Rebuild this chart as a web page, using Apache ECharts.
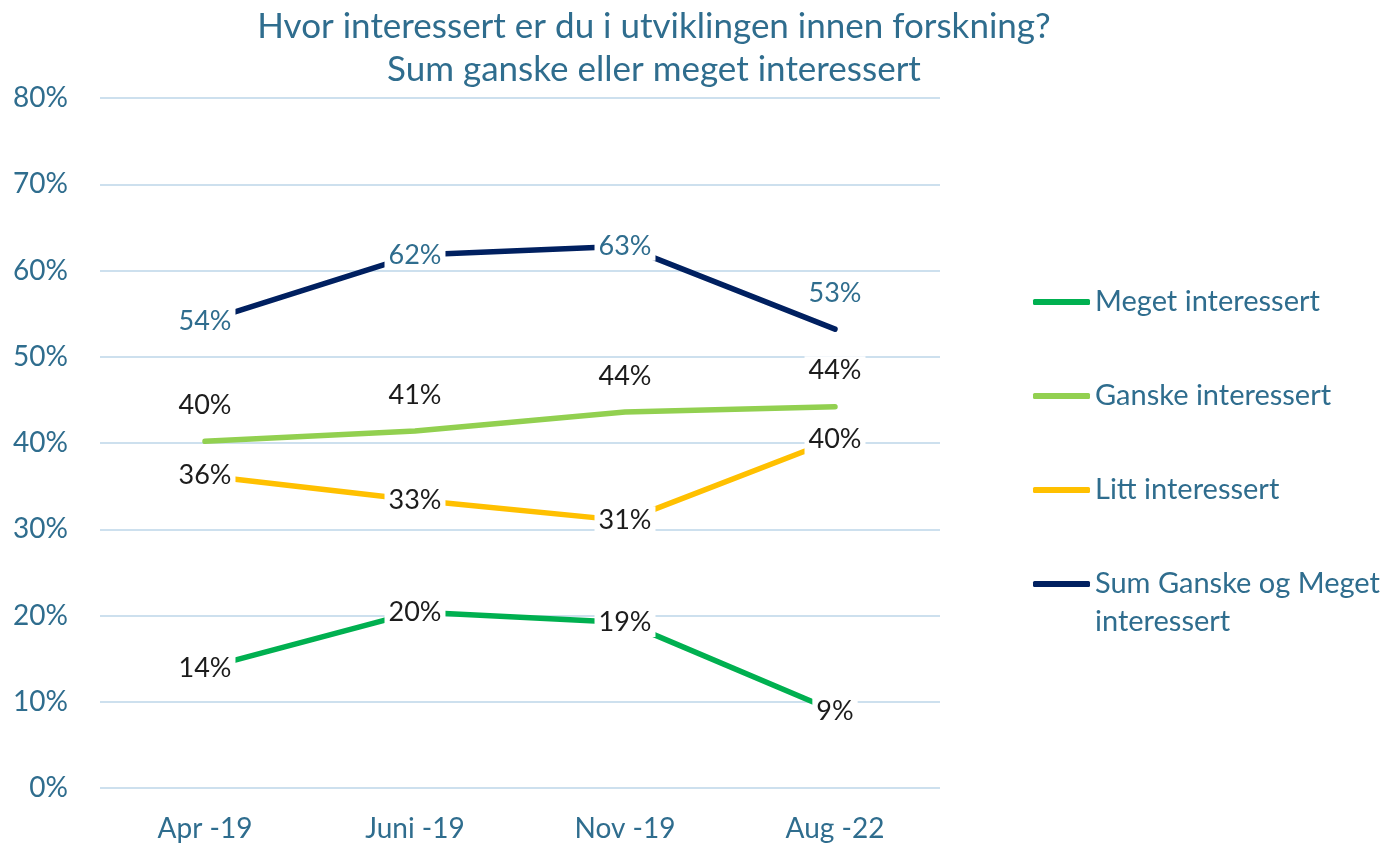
<!DOCTYPE html>
<html>
<head>
<meta charset="utf-8">
<title>Interesse for forskning</title>
<script src="https://cdn.jsdelivr.net/npm/echarts@6/dist/echarts.min.js"></script>
<style>
    html, body { margin: 0; padding: 0; background: #fff; }
    #chart { width: 1390px; height: 843px; }
</style>
</head>
<body>
<div id="chart"></div>
<script>
// kategorier (x-akse)
var periods = ['Apr -19', 'Juni -19', 'Nov -19', 'Aug -22'];

// verdier i prosent, lest av bildet
var meget = [13.9, 20.4, 19.2, 8.9];
var ganske = [40.2, 41.4, 43.6, 44.2];
var litt = [36.2, 33.4, 31.0, 40.4];
var sumGanskeMeget = [54.1, 61.8, 62.8, 53.2];

var yTicks = [0, 10, 20, 30, 40, 50, 60, 70, 80];

var seriesNames = ['Meget interessert', 'Ganske interessert', 'Litt interessert', 'Sum Ganske og Meget interessert'];

var blue = '#2f6d8e';
var dark = '#1c1c1c';
var font = 'Lato, "Noto Sans", sans-serif';

function pct(p) {
    return Math.round(p.value) + '%';
}

function labelStyle(color) {
    return {
        show: true,
        position: 'inside',
        formatter: pct,
        color: color,
        fontFamily: font,
        fontSize: 27,
        backgroundColor: '#fff',
        padding: [1, 4]
    };
}

function lineSeries(name, data, color, label) {
    return {
        name: name,
        type: 'line',
        data: data,
        color: color,
        symbol: 'circle',
        symbolSize: 1,
        showSymbol: true,
        lineStyle: { width: 5.5, color: color, cap: 'round', join: 'round' },
        itemStyle: { color: color },
        label: label,
        emphasis: { disabled: true },
        animation: false
    };
}

var chart = echarts.init(document.getElementById('chart'));

// Ganske: etiketter over punktet
var ganskeLabel = labelStyle(dark);
ganskeLabel.position = 'top';
ganskeLabel.distance = 21;

// Sum: siste etikett over punktet
var sumData = sumGanskeMeget.map(function (v, i) {
    if (i === 3) {
        return { value: v, label: { position: 'top', distance: 21 } };
    }
    return v;
});

var legendText = { color: blue, fontFamily: font, fontSize: 29, lineHeight: 38 };

var option = {
    backgroundColor: '#fff',
    title: {
        text: 'Hvor interessert er du i utviklingen innen forskning?\nSum ganske eller meget interessert',
        left: 654,
        textAlign: 'center',
        top: 5,
        padding: 0,
        textStyle: {
            color: blue,
            fontFamily: font,
            fontWeight: 'normal',
            fontSize: 35,
            lineHeight: 43
        }
    },
    legend: [
        {
            data: seriesNames.slice(0, 3),
            orient: 'vertical',
            left: 1033,
            top: 283,
            padding: 0,
            itemWidth: 57,
            itemHeight: 6,
            itemGap: 56,
            icon: 'roundRect',
            selectedMode: false,
            textStyle: legendText
        },
        {
            data: [seriesNames[3]],
            orient: 'vertical',
            left: 1033,
            top: 527,
            padding: 0,
            itemWidth: 57,
            itemHeight: 6,
            icon: 'roundRect',
            selectedMode: false,
            formatter: function () {
                return '\nSum Ganske og Meget\ninteressert';
            },
            textStyle: legendText
        }
    ],
    grid: {
        left: 100,
        right: 450,
        top: 98,
        bottom: 55
    },
    xAxis: {
        type: 'category',
        data: periods,
        boundaryGap: true,
        axisLine: { show: false },
        axisTick: { show: false },
        axisLabel: {
            color: blue,
            fontFamily: font,
            fontSize: 28,
            margin: 27
        }
    },
    yAxis: {
        type: 'value',
        min: yTicks[0],
        max: yTicks[yTicks.length - 1],
        interval: 10,
        axisLine: { show: false },
        axisTick: { show: false },
        axisLabel: {
            color: blue,
            fontFamily: font,
            fontSize: 28,
            margin: 32,
            formatter: '{value}%'
        },
        splitLine: {
            lineStyle: { color: '#cde0ee', width: 2 }
        }
    },
    series: [
        lineSeries(seriesNames[0], meget, '#00b050', labelStyle(dark)),
        lineSeries(seriesNames[1], ganske, '#92d050', ganskeLabel),
        lineSeries(seriesNames[2], litt, '#ffc000', labelStyle(dark)),
        lineSeries(seriesNames[3], sumData, '#002060', labelStyle(blue))
    ]
};

chart.setOption(option);
</script>
</body>
</html>
